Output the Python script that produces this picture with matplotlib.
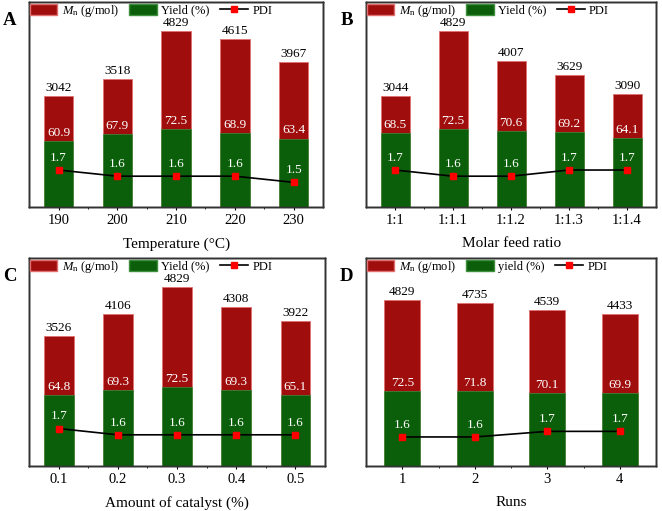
import matplotlib
matplotlib.use("Agg")
import matplotlib.pyplot as plt
from matplotlib.patches import Patch
from matplotlib.lines import Line2D
from matplotlib.ticker import FixedLocator

plt.rcParams["font.family"] = "Liberation Serif"
plt.rcParams["mathtext.fontset"] = "custom"
plt.rcParams["mathtext.rm"] = "Liberation Serif"
plt.rcParams["mathtext.it"] = "Liberation Serif:italic"

### data
temp_labels = ["190", "200", "210", "220", "230"]
temp_mn = [3042, 3518, 4829, 4615, 3967]
temp_yield = [60.9, 67.9, 72.5, 68.9, 63.4]
temp_pdi = [1.7, 1.6, 1.6, 1.6, 1.5]

ratio_labels = ["1:1", "1:1.1", "1:1.2", "1:1.3", "1:1.4"]
ratio_mn = [3044, 4829, 4007, 3629, 3090]
ratio_yield = [68.5, 72.5, 70.6, 69.2, 64.1]
ratio_pdi = [1.7, 1.6, 1.6, 1.7, 1.7]

cat_labels = ["0.1", "0.2", "0.3", "0.4", "0.5"]
cat_mn = [3526, 4106, 4829, 4308, 3922]
cat_yield = [64.8, 69.3, 72.5, 69.3, 65.1]
cat_pdi = [1.7, 1.6, 1.6, 1.6, 1.6]

run_labels = ["1", "2", "3", "4"]
run_mn = [4829, 4735, 4539, 4433]
run_yield = [72.5, 71.8, 70.1, 69.9]
run_pdi = [1.6, 1.6, 1.7, 1.7]

RED = "#a00d0d"
GREEN = "#0b5f0b"


def panel(rect, letter, labels, mn, yld, pdi, xlabel, ylims, yield_name="Yield (%)"):
    """draw one panel: Mn bars, yield bars and PDI line on three hidden y scales"""
    ax = fig.add_axes(rect)
    ax2 = ax.twinx()
    ax3 = ax.twinx()
    x = list(range(1, len(labels) + 1))
    ax.bar(x, mn, width=0.5, color=RED, edgecolor="#e07070", linewidth=0.6)
    ax2.bar(x, yld, width=0.5, color=GREEN, edgecolor="#3f8f3f", linewidth=0.5)
    ax3.plot(x, pdi, "k-", lw=1.2, marker="s", ms=4, mfc="red", mec="red")
    ax.set_ylim(0, ylims[0])
    ax2.set_ylim(0, ylims[1])
    ax3.set_ylim(ylims[2], ylims[3])
    ax.set_xlim(0.5, len(labels) + 0.5)
    for a in (ax, ax2, ax3):
        a.set_yticks([])
        for s in a.spines.values():
            s.set_color("#333333")
            s.set_linewidth(1.0)
    ax.set_xticks(x)
    ax.set_xticklabels(labels, fontsize=10.5)
    ax.xaxis.set_minor_locator(FixedLocator([i + 0.5 for i in x[:-1]]))
    ax.tick_params(axis="x", which="major", direction="out", length=2.5, pad=2.5)
    ax.tick_params(axis="x", which="minor", direction="out", length=1.5)
    ax.set_xlabel(xlabel, fontsize=11, labelpad=7.5)
    # value labels
    for xi, v in zip(x, mn):
        ax.annotate(str(v), (xi, v), xytext=(0, 1.5), textcoords="offset points",
                    ha="center", va="bottom", fontsize=9.5)
    for xi, v in zip(x, yld):
        ax2.annotate("%.1f" % v, (xi, v), xytext=(0, 1.5), textcoords="offset points",
                     ha="center", va="bottom", fontsize=9.5, color="white")
    for xi, v in zip(x, pdi):
        ax3.annotate("%.1f" % v, (xi, v), xytext=(0, 4.5), textcoords="offset points",
                     ha="center", va="bottom", fontsize=9.5, color="white")
    handles = [Patch(facecolor=RED, edgecolor="#e07070"),
               Patch(facecolor=GREEN, edgecolor="#3f8f3f"),
               Line2D([], [], color="k", lw=1.2, marker="s", ms=4, mfc="red", mec="red")]
    names = [r"$M_\mathrm{n}$ (g/mol)", yield_name, "PDI"]
    ax3.legend(handles, names, loc="upper left", bbox_to_anchor=(0, 1.0), ncol=3,
               frameon=False, borderaxespad=0.05, borderpad=0, fontsize=9,
               handlelength=2.2, handleheight=1.05, handletextpad=0.35,
               columnspacing=0.85)
    fig.text(rect[0] - 0.029, rect[1] + rect[3] - 0.036, letter, fontsize=13.5,
             fontweight="bold", ha="center", va="center")
    return ax


fig = plt.figure(figsize=(6.62, 5.11), dpi=100)
lims = (5625, 190, 1.1, 4.43)
panel([0.044, 0.595, 0.444, 0.401], "A", temp_labels, temp_mn, temp_yield, temp_pdi,
      "Temperature (\u00b0C)", lims)
panel([0.553, 0.595, 0.438, 0.401], "B", ratio_labels, ratio_mn, ratio_yield, ratio_pdi,
      "Molar feed ratio", lims)
panel([0.044, 0.088, 0.447, 0.407], "C", cat_labels, cat_mn, cat_yield, cat_pdi,
      "Amount of catalyst (%)", lims)
panel([0.553, 0.088, 0.438, 0.407], "D", run_labels, run_mn, run_yield, run_pdi,
      "Runs", (6050, 200, 1.08, 4.8), yield_name="yield (%)")

fig.savefig("out.png", dpi=100)
